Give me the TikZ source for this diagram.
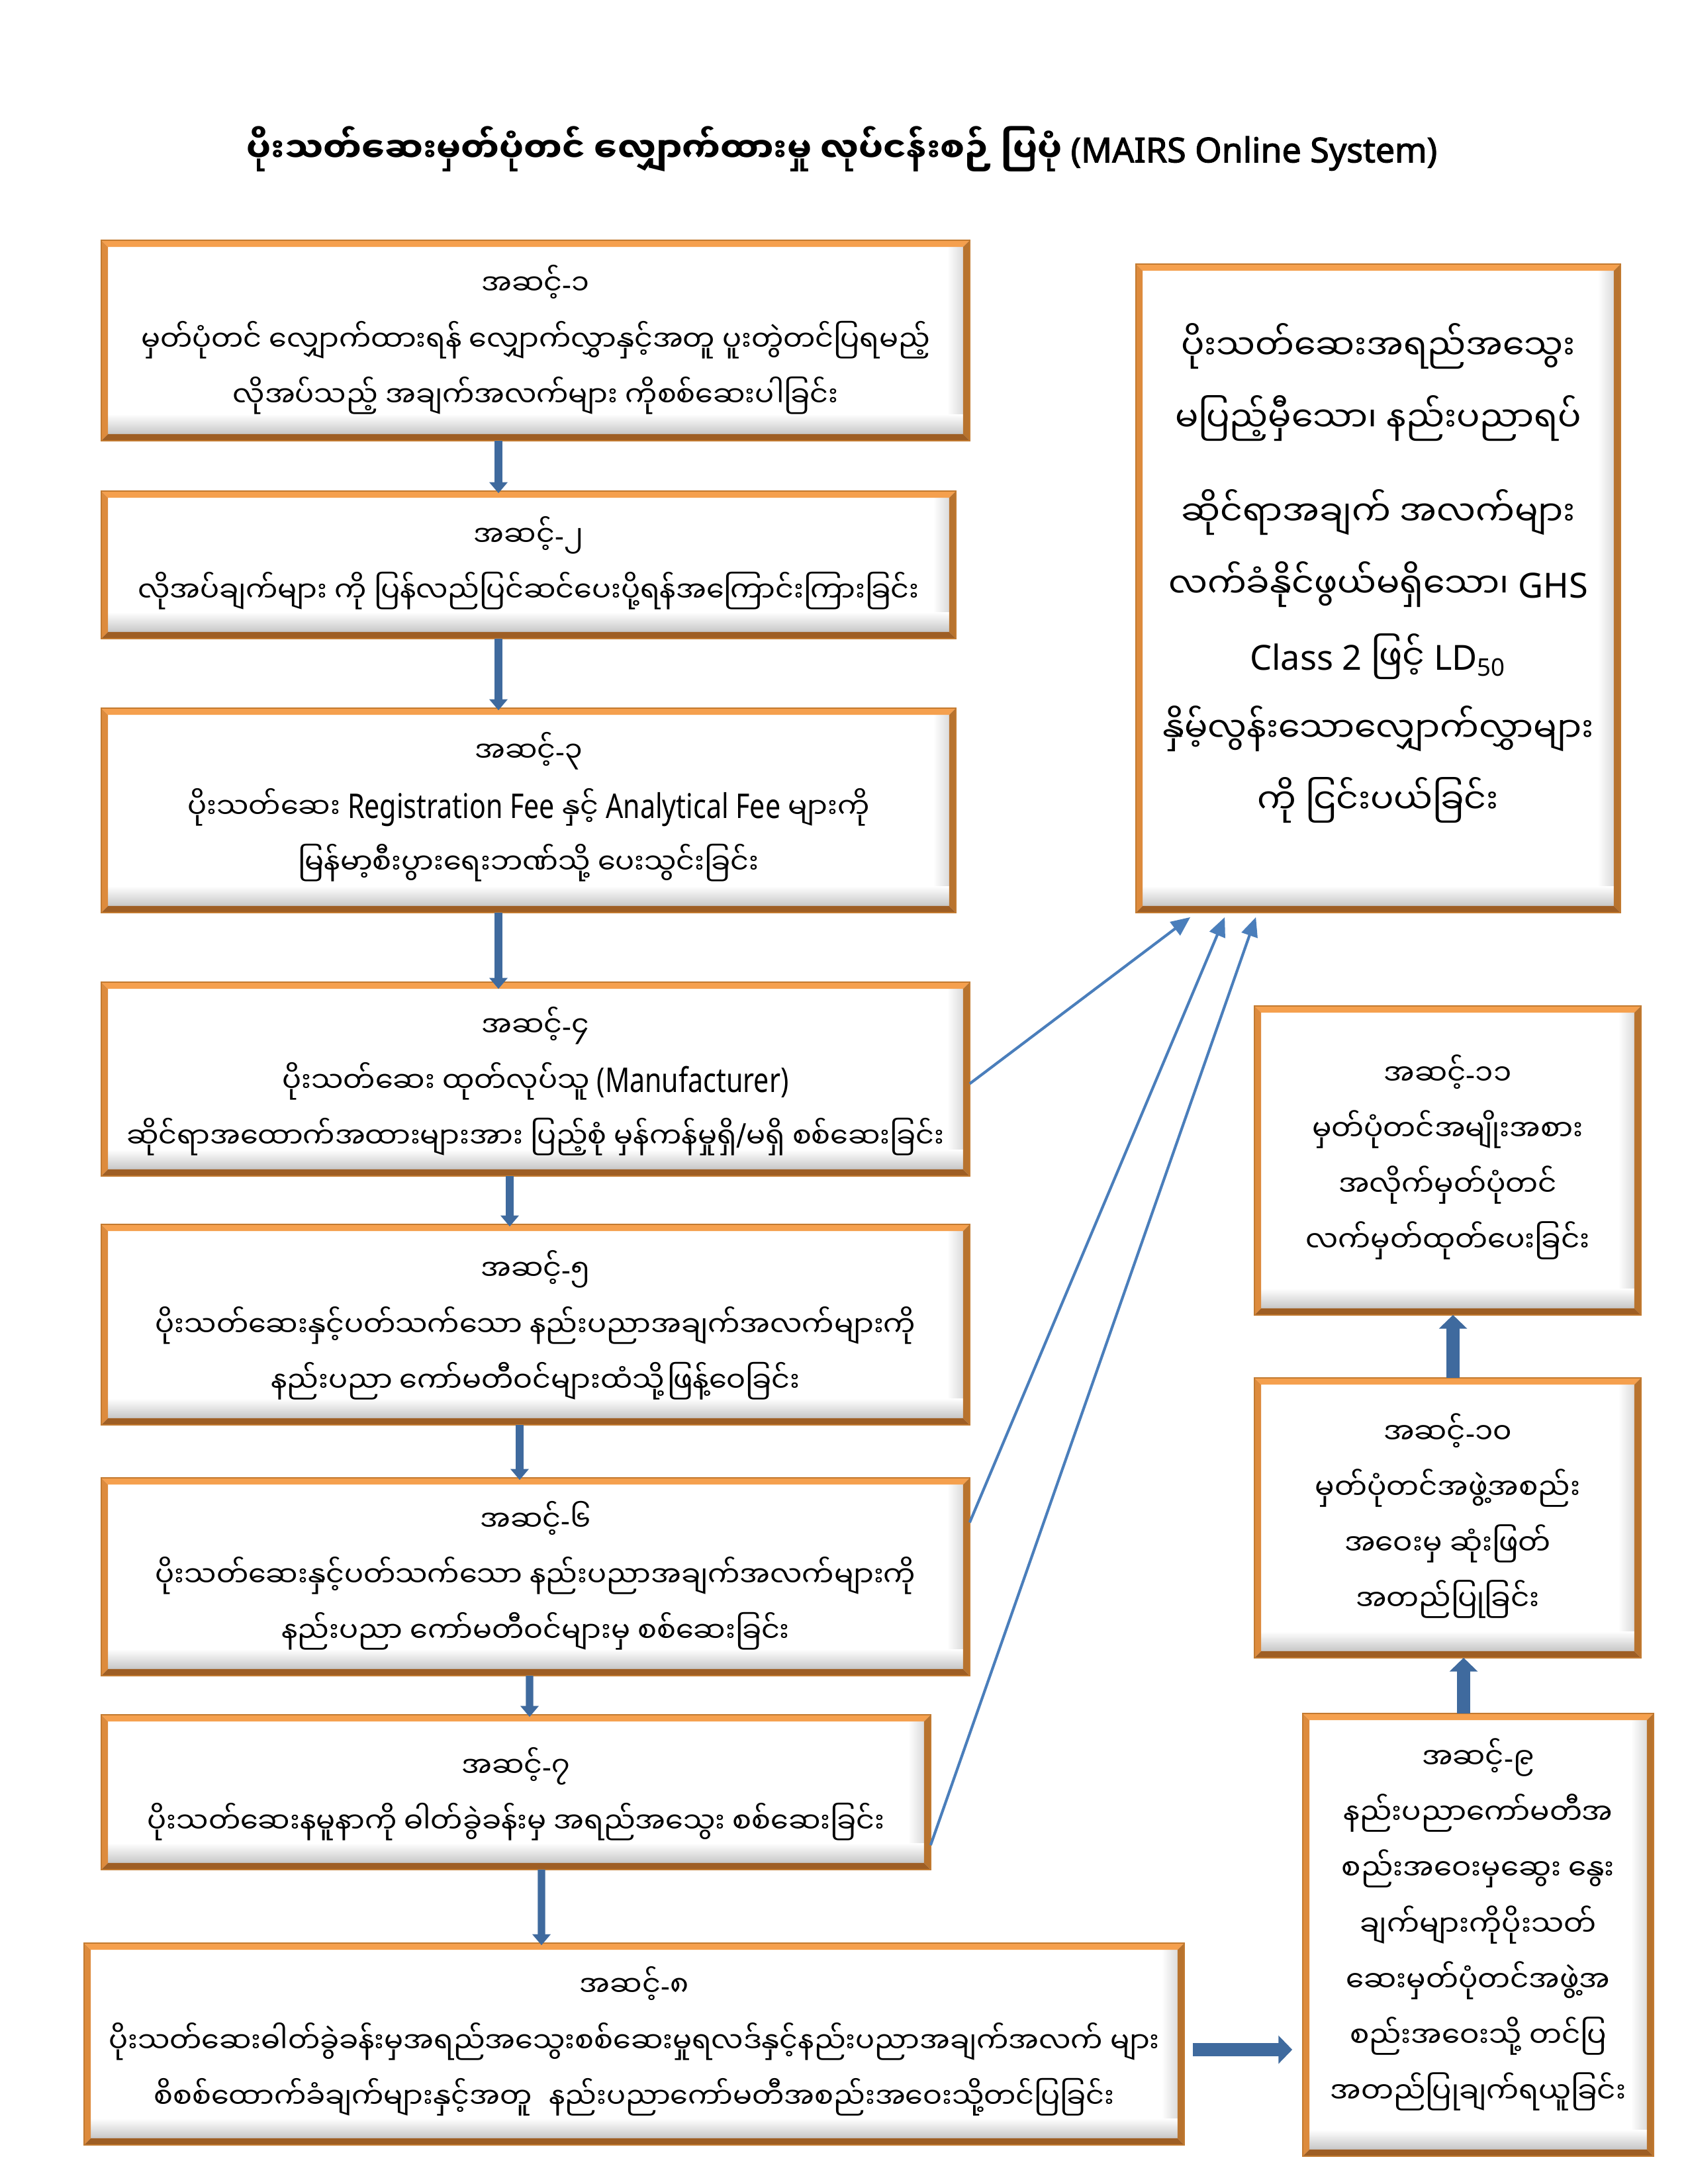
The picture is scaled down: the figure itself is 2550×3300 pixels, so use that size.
\documentclass[tikz,border=0pt]{standalone}
\usepackage{fontspec}
\setmainfont{Noto Sans}
\newfontfamily\mm[Script=Myanmar]{Noto Sans Myanmar UI}
\newfontfamily\latn[FakeStretch=0.8]{Noto Sans}
\newfontfamily\latb[FakeBold=2.2]{Noto Sans}
\usetikzlibrary{arrows.meta,fit}
\lineskiplimit=-100pt
\definecolor{blkblue}{HTML}{3F6A9E}
\definecolor{thinblue}{HTML}{4A7EBB}
\definecolor{bvtop}{HTML}{F5A04E}
\definecolor{bvleft}{HTML}{DD8B3D}
\definecolor{bvright}{HTML}{B8732E}
\definecolor{bvbot}{HTML}{9E5E24}
\definecolor{bvline}{HTML}{C27A30}
\newcommand\mys{\rule[\dimexpr-0.5\baselineskip+0.47em\relax]{0pt}{\baselineskip}}
\newcommand\hy{{\rmfamily-}}
\newcommand\LL[1]{{\fontsize{12.4}{20.3}\selectfont\latn #1}}
\def\bw{10}
\newcommand\bevbox[5]{%
  \node[fit={(#2,#3) (#4,#5)}, inner sep=0pt, fill=white] (#1) {};
  \shade[top color=white, bottom color=black!22] ([shift={(\bw,-\bw-30)}]#1.south west) rectangle ([shift={(-\bw,-\bw)}]#1.south east);
  \shade[left color=white, right color=black!14] ([shift={(-\bw-24,\bw)}]#1.north east) rectangle ([shift={(-\bw,-\bw-30)}]#1.south east);
  \fill[bvtop] (#1.north west) -- (#1.north east) -- ([shift={(-\bw,\bw)}]#1.north east) -- ([shift={(\bw,\bw)}]#1.north west) -- cycle;
  \fill[bvleft] (#1.north west) -- ([shift={(\bw,\bw)}]#1.north west) -- ([shift={(\bw,-\bw)}]#1.south west) -- (#1.south west) -- cycle;
  \fill[bvright] (#1.north east) -- ([shift={(-\bw,\bw)}]#1.north east) -- ([shift={(-\bw,-\bw)}]#1.south east) -- (#1.south east) -- cycle;
  \fill[bvbot] (#1.south west) -- ([shift={(\bw,-\bw)}]#1.south west) -- ([shift={(-\bw,-\bw)}]#1.south east) -- (#1.south east) -- cycle;
  \draw[bvline, line width=0.5pt] (#1.north west) rectangle (#1.south east);
}
\tikzset{
  txtL/.style={inner sep=0pt, align=center, font=\fontsize{10.35}{20.3}\selectfont\mm},
  txtR/.style={inner sep=0pt, align=center, font=\fontsize{12.6}{26.2}\selectfont\mm},
  txtS/.style={inner sep=0pt, align=center, font=\fontsize{10.5}{20.3}\selectfont\mm},
  blkA/.style={draw=blkblue, line width=2.75pt, -{Triangle[width=6.5pt,length=4pt]}},
  blkB/.style={draw=blkblue, line width=4.6pt, -{Triangle[width=10pt,length=5pt]}},
  thinA/.style={draw=thinblue, line width=1pt, -{Triangle[width=6pt,length=7pt]}},
}
\begin{document}
\begin{tikzpicture}[x=0.0084667cm, y=-0.0084667cm]
\fill[white] (0,0) rectangle (2550,3300);
\useasboundingbox (0,0) rectangle (2550,3300);

\node[inner sep=0pt, font=\fontsize{12.5}{18}\selectfont\bfseries] (title) at (1272,225)
  {{\mm ပိုးသတ်ဆေးမှတ်ပုံတင် လျှောက်ထားမှု လုပ်ငန်းစဉ် ပြပုံ} {\latb (MAIRS Online System)}};

\bevbox{s1}{154}{364}{1464}{665}
\bevbox{s2}{154}{743}{1443}{964}
\bevbox{s3}{154}{1071}{1443}{1378}
\bevbox{s4}{154}{1485}{1464}{1776}
\bevbox{s5}{154}{1851}{1464}{2152}
\bevbox{s6}{154}{2234}{1464}{2531}
\bevbox{s7}{154}{2592}{1405}{2824}
\bevbox{s8}{128}{2937}{1788}{3240}
\bevbox{R}{1717}{400}{2447}{1378}
\bevbox{s11}{1896}{1521}{2478}{1986}
\bevbox{s10}{1896}{2083}{2478}{2504}
\bevbox{s9}{1969}{2590}{2497}{3257}

\node[txtL] (t1) at ([shift={(0,-4.5)}]s1.center)
  {\mys အဆင့်\hy ၁\\ \mys မှတ်ပုံတင် လျှောက်ထားရန် လျှောက်လွှာနှင့်အတူ ပူးတွဲတင်ပြရမည့်\\ \mys လိုအပ်သည့် အချက်အလက်များ ကိုစစ်ဆေးပါခြင်း};
\node[txtL] (t2) at ([shift={(0,-6.5)}]s2.center)
  {\mys အဆင့်\hy ၂\\ \mys လိုအပ်ချက်များ ကို ပြန်လည်ပြင်ဆင်ပေးပို့ရန်အကြောင်းကြားခြင်း};
\node[txtL] (t3) at ([shift={(0,-8.5)}]s3.center)
  {\mys အဆင့်\hy ၃\\ \mys ပိုးသတ်ဆေး \LL{Registration Fee} နှင့် \LL{Analytical Fee} များကို\\ \mys မြန်မာ့စီးပွားရေးဘဏ်သို့ ပေးသွင်းခြင်း};
\node[txtL] (t4) at (s4.center)
  {\mys အဆင့်\hy ၄\\ \mys ပိုးသတ်ဆေး ထုတ်လုပ်သူ \LL{(Manufacturer)}\\ \mys ဆိုင်ရာအထောက်အထားများအား ပြည့်စုံ မှန်ကန်မှုရှိ\LL{/}မရှိ စစ်ဆေးခြင်း};
\node[txtL] (t5) at ([shift={(0,-2.5)}]s5.center)
  {\mys အဆင့်\hy ၅\\ \mys ပိုးသတ်ဆေးနှင့်ပတ်သက်သော နည်းပညာအချက်အလက်များကို\\ \mys နည်းပညာ ကော်မတီဝင်များထံသို့ဖြန့်ဝေခြင်း};
\node[txtL] (t6) at ([shift={(0,-5)}]s6.center)
  {\mys အဆင့်\hy ၆\\ \mys ပိုးသတ်ဆေးနှင့်ပတ်သက်သော နည်းပညာအချက်အလက်များကို\\ \mys နည်းပညာ ကော်မတီဝင်များမှ စစ်ဆေးခြင်း};
\node[txtL] (t7) at ([shift={(0,-1)}]s7.center)
  {\mys အဆင့်\hy ၇\\ \mys ပိုးသတ်ဆေးနမူနာကို ဓါတ်ခွဲခန်းမှ အရည်အသွေး စစ်ဆေးခြင်း};
\node[txtL] (t8) at ([shift={(0,-7.5)}]s8.center)
  {\mys အဆင့်\hy ၈\\ \mys ပိုးသတ်ဆေးဓါတ်ခွဲခန်းမှအရည်အသွေးစစ်ဆေးမှုရလဒ်နှင့်နည်းပညာအချက်အလက် များ\\ \mys စိစစ်ထောက်ခံချက်များနှင့်အတူ\hspace{0.6em}နည်းပညာကော်မတီအစည်းအဝေးသို့တင်ပြခြင်း};
\node[txtR] (tR) at ([shift={(0,-27)}]R.center)
  {\mys ပိုးသတ်ဆေးအရည်အသွေး\\ \mys မပြည့်မှီသော၊ နည်းပညာရပ်\\[8.2pt] \mys ဆိုင်ရာအချက် အလက်များ\\ \mys လက်ခံနိုင်ဖွယ်မရှိသော၊ {\rmfamily GHS}\\ \mys {\rmfamily Class 2} ဖြင့် {\rmfamily LD\textsubscript{50}}\\ \mys နှိမ့်လွန်းသောလျှောက်လွှာများ\\ \mys ကို ငြင်းပယ်ခြင်း};
\node[txtS] (t11) at ([shift={(0,-8.5)}]s11.center)
  {\mys အဆင့်\hy ၁၁\\ \mys မှတ်ပုံတင်အမျိုးအစား\\ \mys အလိုက်မှတ်ပုံတင်\\ \mys လက်မှတ်ထုတ်ပေးခြင်း};
\node[txtS] (t10) at ([shift={(0,-6.5)}]s10.center)
  {\mys အဆင့်\hy ၁၀\\ \mys မှတ်ပုံတင်အဖွဲ့အစည်း\\ \mys အဝေးမှ ဆုံးဖြတ်\\ \mys အတည်ပြုခြင်း};
\node[txtS] (t9) at ([shift={(0,-19)}]s9.center)
  {\mys အဆင့်\hy ၉\\ \mys နည်းပညာကော်မတီအ\\ \mys စည်းအဝေးမှဆွေး နွေး\\ \mys ချက်များကိုပိုးသတ်\\ \mys ဆေးမှတ်ပုံတင်အဖွဲ့အ\\ \mys စည်းအဝေးသို့ တင်ပြ\\ \mys အတည်ပြုချက်ရယူခြင်း};

\draw[blkA] ([shift={(-56,0)}]s1.south) -- ([shift={(-45.5,3)}]s2.north);
\draw[blkA] ([shift={(-45.5,0)}]s2.south) -- ([shift={(-45.5,3)}]s3.north);
\draw[blkA] ([shift={(-45.5,0)}]s3.south) -- ([shift={(-56,10)}]s4.north);
\draw[blkA] ([shift={(-39,0)}]s4.south) -- ([shift={(-39,3)}]s5.north);
\draw[blkA] ([shift={(-24,0)}]s5.south) -- ([shift={(-24,3)}]s6.north);
\draw[blkA] ([shift={(-9,0)}]s6.south) -- ([shift={(20.5,3)}]s7.north);
\draw[blkA] ([shift={(38.5,0)}]s7.south) -- ([shift={(-140,3)}]s8.north);
\draw[blkB] ([shift={(13,8.5)}]s8.east) -- ([shift={(-16,173.5)}]s9.west);
\draw[blkB] ([shift={(-22,0)}]s9.north) -- ([shift={(24,0)}]s10.south);
\draw[blkB] ([shift={(8,0)}]s10.north) -- ([shift={(8,0)}]s11.south);

\draw[thinA] ([shift={(0,7)}]s4.east) -- ([shift={(82,7)}]R.south west);
\draw[thinA] ([shift={(0,-82)}]s6.east) -- ([shift={(134,7)}]R.south west);
\draw[thinA] ([shift={(0,80)}]s7.east) -- ([shift={(181,7)}]R.south west);
\end{tikzpicture}
\end{document}
